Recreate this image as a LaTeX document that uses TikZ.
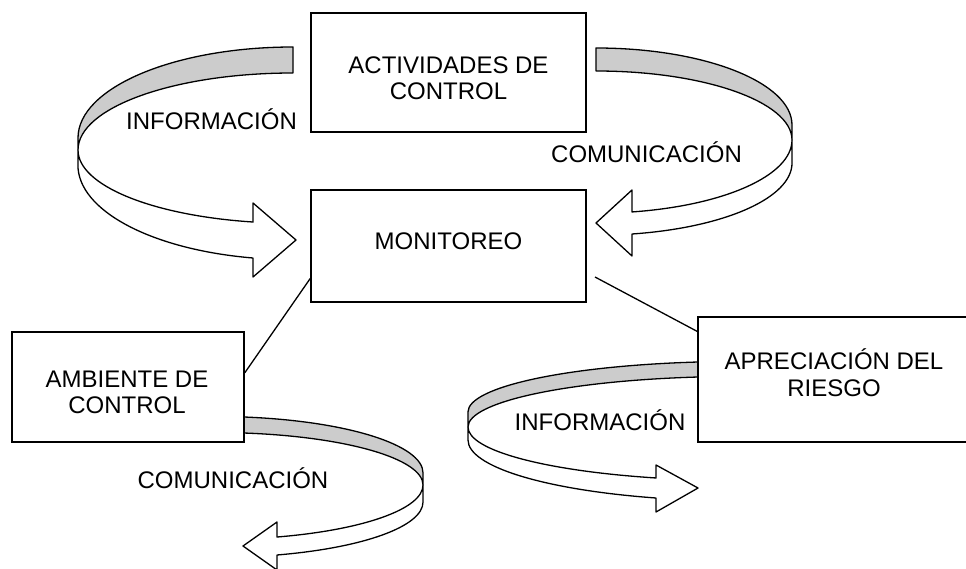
\documentclass[tikz,border=0pt]{standalone}
\usepackage{fontspec}
\setmainfont{Liberation Sans}
\usetikzlibrary{calc}
\begin{document}
\begin{tikzpicture}[x=1pt,y=-1pt,
  box/.style={draw=black,line width=1.5pt,fill=white,rectangle,inner sep=0pt},
  lbl/.style={font=\fontsize{24}{26}\selectfont,anchor=base,inner sep=0pt},
  conn/.style={draw=black,line width=1.3pt},
  rib/.style={draw=black,line width=1.3pt,line join=round},
  ribgray/.style={rib,fill=gray!40},
  ribwhite/.style={rib,fill=white}]
\useasboundingbox (0,0) rectangle (966,569);
% ribbons
\path[ribwhite] (78,150) arc[start angle=180,end angle=259.3,x radius=215pt,y radius=73.3pt] -- (253,203) -- (296,240) -- (253,277) -- (253,258) arc[start angle=259.3,end angle=180,x radius=215pt,y radius=94.6pt] -- cycle;
\path[ribgray] (293,47) arc[start angle=90,end angle=180,x radius=215pt,y radius=91pt] -- (78,150) arc[start angle=180,end angle=90,x radius=215pt,y radius=77pt] -- cycle;
\path[ribwhite] (792,140) arc[start angle=0,end angle=-79.42,x radius=196pt,y radius=73.2pt] -- (632,190) -- (596,223) -- (632,256) -- (632,234) arc[start angle=-79.42,end angle=0,x radius=196pt,y radius=72.2pt] -- cycle;
\path[ribgray] (596,48) arc[start angle=90,end angle=0,x radius=196pt,y radius=77pt] -- (792,140) arc[start angle=0,end angle=90,x radius=196pt,y radius=69pt] -- cycle;
\path[ribwhite] (423,485) arc[start angle=0,end angle=-72.66,x radius=208pt,y radius=54.5pt] -- (277,522) -- (243,546) -- (277,570) -- (277,555) arc[start angle=-72.66,end angle=0,x radius=208pt,y radius=55.5pt] -- cycle;
\path[ribgray] (244,417) arc[start angle=82,end angle=0,x radius=208pt,y radius=56.6pt] -- (423,485) arc[start angle=0,end angle=82,x radius=208pt,y radius=52.5pt] -- cycle;
\path[ribwhite] (468,427) arc[start angle=180,end angle=252.01,x radius=272pt,y radius=53.6pt] -- (656,465) -- (698,488) -- (656,512) -- (656,498) arc[start angle=252.01,end angle=180,x radius=272pt,y radius=61pt] -- cycle;
\path[ribgray] (698,362) arc[start angle=98.88,end angle=180,x radius=272pt,y radius=50.6pt] -- (468,427) arc[start angle=180,end angle=98.88,x radius=272pt,y radius=50.6pt] -- cycle;
% boxes
\node[box,minimum width=275pt,minimum height=119pt] (act) at (448.5,72.5) {};
\node[box,minimum width=275pt,minimum height=112pt] (mon) at (448.5,246) {};
\node[box,minimum width=232pt,minimum height=110pt] (amb) at (128,387) {};
\node[box,minimum width=277pt,minimum height=125pt] (apr) at (836.5,379.5) {};
% connectors
\coordinate (mr) at (595,277);
\draw[conn] ($(mon.south west)!0.214!(mon.north west)$) -- ($(amb.north east)!0.373!(amb.south east)$);
\draw[conn] (mr) -- ($(apr.north west)!0.12!(apr.south west)$);
% labels
\node[lbl] (t1a) at (448.5,74) {ACTIVIDADES DE};
\node[lbl] (t1b) at (448.5,100) {CONTROL};
\node[lbl] (t2) at (448.5,250) {MONITOREO};
\node[lbl] (t3a) at (127,387) {AMBIENTE DE};
\node[lbl] (t3b) at (127,413) {CONTROL};
\node[lbl] (t4a) at (834,369) {APRECIACIÓN DEL};
\node[lbl] (t4b) at (834,396) {RIESGO};
\node[lbl] (i1) at (211.5,130) {INFORMACIÓN};
\node[lbl] (c1) at (646.5,163) {COMUNICACIÓN};
\node[lbl] (i2) at (600,430) {INFORMACIÓN};
\node[lbl] (c2) at (233,488) {COMUNICACIÓN};
\end{tikzpicture}
\end{document}
